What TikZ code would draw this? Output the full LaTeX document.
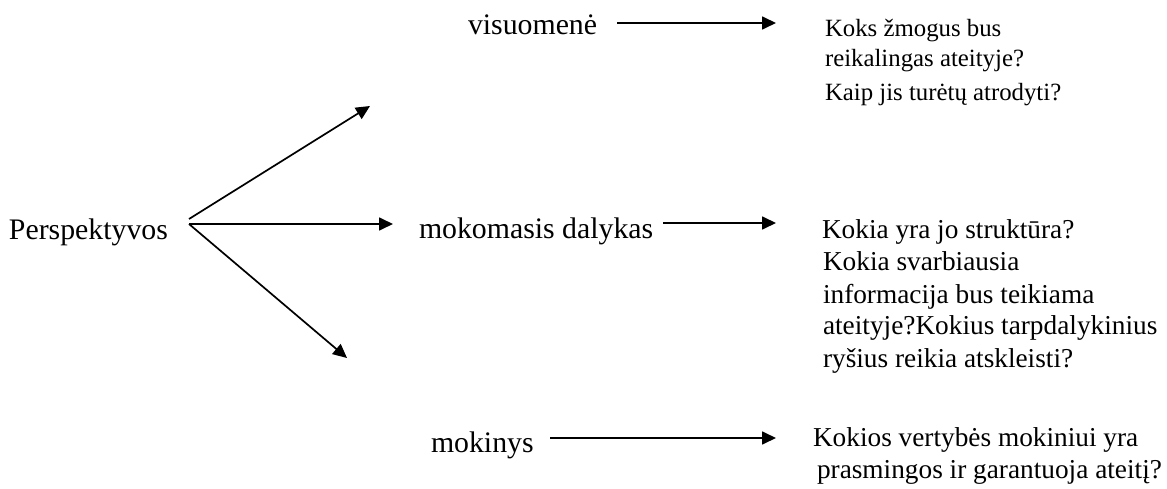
\documentclass[tikz,border=0pt]{standalone}
\usepackage{fontspec}
\setmainfont{Liberation Serif}
\usetikzlibrary{arrows.meta}
\tikzset{
  lbl/.style={anchor=base west, inner sep=0pt, outer sep=0pt, font=\fontsize{29.8pt}{32pt}\selectfont},
  qsm/.style={anchor=base west, inner sep=0pt, outer sep=0pt, font=\fontsize{24.8pt}{30pt}\selectfont},
  qbl/.style={anchor=base west, inner sep=0pt, outer sep=0pt, font=\fontsize{27.3pt}{32pt}\selectfont},
  arr/.style={line width=1.7pt, -{Triangle[length=14pt,width=13pt]}}
}
\begin{document}
\begin{tikzpicture}[x=1pt,y=-1pt]
\path[use as bounding box] (0,0) rectangle (1167,489);
% labels
\node[lbl] (p) at (9,240) {Perspektyvos};
\node[lbl] (v) at (468,35) {visuomenė};
\node[lbl] (m) at (419,238) {mokomasis dalykas};
\node[lbl] (k) at (431,452) {mokinys};
\node[qsm] (q1) at (825,37) {\begin{tabular}[t]{@{}l@{}}Koks žmogus bus\\reikalingas ateityje?\\[4pt]Kaip jis turėtų atrodyti?\end{tabular}};
\node[qbl] (q2) at (822,239) {\begin{tabular}[t]{@{}l@{}}Kokia yra jo struktūra?\\\hspace{1pt}Kokia svarbiausia\\\hspace{1pt}informacija bus teikiama\\\hspace{1pt}ateityje?Kokius tarpdalykinius\\\hspace{1pt}ryšius reikia atskleisti?\end{tabular}};
\node[qbl] (q3) at (813,446) {\begin{tabular}[t]{@{}l@{}}Kokios vertybės mokiniui yra\\\hspace{4pt}prasmingos ir garantuoja ateitį?\end{tabular}};
% arrow coordinates
\coordinate (bru) at (189,219);
\coordinate (br) at (189,224);
\coordinate (up) at (370,106);
\coordinate (hz) at (393,224);
\coordinate (dn) at (347,358);
\coordinate (a1s) at (617,23);
\coordinate (a1e) at (776,23);
\coordinate (a2s) at (663,223);
\coordinate (a2e) at (776,223);
\coordinate (a3s) at (550,438);
\coordinate (a3e) at (776,438);
% arrows
\draw[arr] (bru) -- (up);
\draw[arr] (br) -- (hz);
\draw[arr] (br) -- (dn);
\draw[arr] (a1s) -- (a1e);
\draw[arr] (a2s) -- (a2e);
\draw[arr] (a3s) -- (a3e);
\end{tikzpicture}
\end{document}
